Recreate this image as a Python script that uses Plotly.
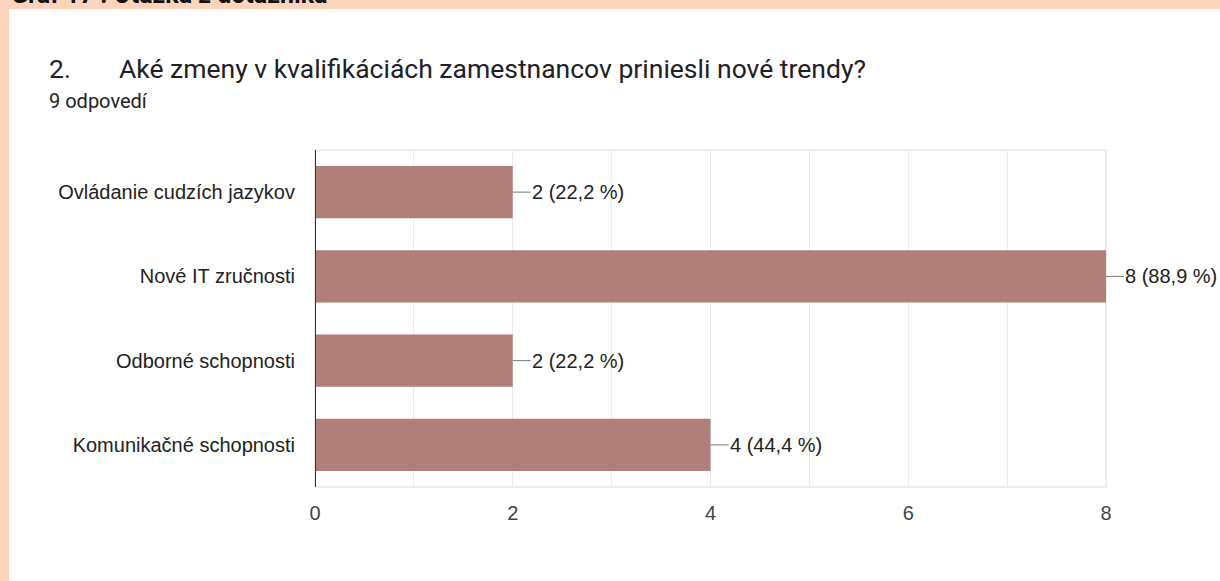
import plotly.graph_objects as go

categories = ["Ovládanie cudzích jazykov", "Nové IT zručnosti", "Odborné schopnosti", "Komunikačné schopnosti"]
counts = [2, 8, 2, 4]
percents = ["22,2", "88,9", "22,2", "44,4"]
tick_vals = [0, 2, 4, 6, 8]
tick_text = ["0", "2", "4", "6", "8"]

title_num = "2."
title_text = "Aké zmeny v kvalifikáciách zamestnancov priniesli nové trendy?"
subtitle = "9 odpovedí"
caption = "Graf 17 : Otázka z dotazníka"

W, H = 1220, 581
L, R, T, B = 315, 1220 - 1106, 150, 581 - 487
PW, PH = W - L - R, H - T - B


def px(x):
    return (x - L) / PW


def py(y):
    return (H - B - y) / PH


bar_color = "#b07f7a"
peach = "#fcd4bc"

fig = go.Figure()
fig.add_trace(go.Bar(
    y=categories, x=counts, orientation="h",
    marker=dict(color=bar_color, line=dict(width=0)),
    width=0.62, hoverinfo="skip",
))

annotations = []
for c, v, p in zip(categories, counts, percents):
    annotations.append(dict(
        x=v, y=c, xref="x", yref="y",
        text=f"{v} ({p} %)", showarrow=True, arrowhead=0, arrowwidth=1,
        arrowcolor="#777777", ax=18, ay=0, xanchor="left", borderpad=0,
        font=dict(family="Liberation Sans, Arial", size=20, color="#222222"),
    ))

annotations += [
    dict(x=px(47), y=py(68), xref="paper", yref="paper", text=title_num,
         showarrow=False, xanchor="left", yanchor="middle",
         font=dict(family="Roboto", size=26.5, color="#202124")),
    dict(x=px(117), y=py(68), xref="paper", yref="paper", text=title_text,
         showarrow=False, xanchor="left", yanchor="middle",
         font=dict(family="Roboto", size=26.5, color="#202124")),
    dict(x=px(47), y=py(101), xref="paper", yref="paper", text=subtitle,
         showarrow=False, xanchor="left", yanchor="middle",
         font=dict(family="Roboto", size=20, color="#202124")),
    dict(x=px(9), y=py(11), xref="paper", yref="paper", text="<b>" + caption + "</b>",
         showarrow=False, xanchor="left", yanchor="bottom",
         font=dict(family="Roboto", size=25, color="#111111")),
]

shapes = [
    dict(type="rect", xref="paper", yref="paper",
         x0=px(9), x1=px(W), y0=py(H), y1=py(9),
         fillcolor="white", line=dict(width=0), layer="below"),
    dict(type="rect", xref="x domain", yref="y domain", x0=0, x1=1, y0=0, y1=1,
         line=dict(color="#e8e8e8", width=1.5), fillcolor="rgba(0,0,0,0)", layer="below"),
]

fig.update_layout(
    width=W, height=H,
    margin=dict(l=L, r=R, t=T, b=B),
    paper_bgcolor=peach, plot_bgcolor="white",
    showlegend=False,
    annotations=annotations,
    shapes=shapes,
    xaxis=dict(range=[0, 8], tickvals=tick_vals, ticktext=tick_text,
               showgrid=True, gridcolor="#ececec", gridwidth=1,
               minor=dict(dtick=1, showgrid=True, gridcolor="#ececec", gridwidth=1),
               zeroline=False, showline=False, ticks="",
               tickfont=dict(family="Liberation Sans Narrow, Liberation Sans, Arial", size=20, color="#444444"),
               ticklabelstandoff=12, fixedrange=True),
    yaxis=dict(categoryorder="array", categoryarray=categories[::-1],
               autorange=True, showgrid=False, zeroline=False,
               showline=False, ticks="",
               tickfont=dict(family="Liberation Sans, Arial", size=20, color="#222222"),
               ticklabelstandoff=19, fixedrange=True),
)

fig.add_shape(type="line", xref="x", yref="y domain", x0=0, x1=0, y0=0, y1=1,
              line=dict(color="#333333", width=2), layer="above")

fig.write_html("out.html", config={"displayModeBar": False},
               post_script="document.body.style.margin='0';document.body.style.overflow='hidden';")
